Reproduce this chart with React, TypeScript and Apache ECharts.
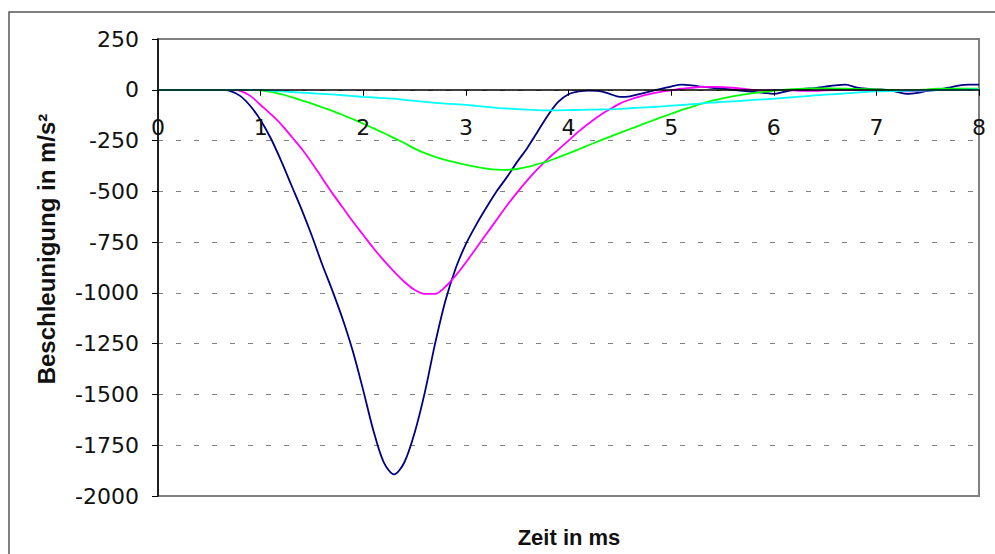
import React, { useEffect, useRef } from "react";
import * as echarts from "echarts";

// time axis sampling (ms)
const STEP = 0.1;
const xTicks = ["0", "1", "2", "3", "4", "5", "6", "7", "8"];
const yTicks = ["250", "0", "-250", "-500", "-750", "-1000", "-1250", "-1500", "-1750", "-2000"];
const Y_MIN = -2000;
const Y_MAX = 250;

// Beschleunigung in m/s², sampled every 0.1 ms from 0 to 8 ms
const navy = [
  0, 0, 0, 0, 0, 0, 0, -5, -30, -80,
  -150, -240, -350, -470, -590, -720, -860, -990, -1130, -1290,
  -1480, -1680, -1835, -1894, -1835, -1690, -1490, -1250, -1040, -880,
  -760, -665, -580, -500, -430, -355, -285, -205, -125, -60,
  -22, -8, -4, -6, -20, -35, -32, -20, -8, 5,
  16, 25, 22, 15, 10, 6, 0, -5, -10, -15,
  -20, -10, 0, 5, 8, 15, 22, 25, 12, 5,
  2, 0, -10, -20, -15, -5, 0, 10, 20, 25,
  25,
];
const magenta = [
  0, 0, 0, 0, 0, 0, 0, 0, -5, -30,
  -75, -120, -170, -230, -290, -360, -435, -510, -580, -650,
  -715, -780, -840, -895, -945, -985, -1005, -1005, -970, -915,
  -850, -780, -710, -640, -570, -505, -445, -390, -340, -295,
  -250, -205, -165, -128, -97, -68, -48, -32, -20, -10,
  -3, 5, 10, 14, 14, 13, 10, 5, 0, -3,
  -2, 0, -3, -5, -5, -3, -2, -2, -2, 0,
  0, -2, -5, -8, -6, -3, 0, 2, 3, 3,
  3,
];
const green = [
  0, 0, 0, 0, 0, 0, 0, 0, 0, 0,
  -3, -10, -22, -36, -52, -68, -86, -104, -124, -145,
  -167, -190, -213, -238, -262, -290, -312, -330, -345, -358,
  -370, -380, -388, -393, -394, -390, -380, -366, -352, -333,
  -313, -293, -272, -252, -232, -212, -193, -174, -155, -136,
  -118, -100, -84, -68, -54, -42, -32, -24, -16, -10,
  -5, 0, 3, 5, 7, 7, 6, 5, 4, 3,
  2, 0, -2, -3, -2, 2, 5, 6, 6, 5,
  5,
];
const cyan = [
  0, 0, 0, 0, 0, 0, 0, 0, 0, 0,
  0, -5, -8, -11, -14, -17, -20, -23, -27, -31,
  -35, -38, -41, -44, -50, -55, -60, -64, -68, -71,
  -74, -79, -84, -89, -92, -95, -98, -100, -101, -101,
  -100, -99, -98, -97, -96, -94, -91, -88, -85, -82,
  -78, -75, -71, -67, -63, -60, -57, -54, -50, -47,
  -44, -40, -36, -32, -28, -24, -21, -18, -14, -10,
  -8, -7, -6, -5, -4, -3, -2, -1, 0, 1,
  2,
];

const toPairs = (vals: number[]) => vals.map((v, i) => [Math.round(i * STEP * 10) / 10, v]);

const TITLE_FONT = "'Liberation Sans', Arial, sans-serif";
const TICK_FONT = "'DejaVu Sans', Verdana, sans-serif";

const W = 995;
const H = 554;
const G_TOP = 39;
const G_BOTTOM = 58;

export default function App() {
  const ref = useRef<HTMLDivElement>(null);
  useEffect(() => {
    if (!ref.current) return;
    const chart = echarts.init(ref.current, null, { renderer: "svg" });
    const plotH = H - G_TOP - G_BOTTOM;
    // distance of the y=0 line above the grid bottom, so the time axis sits on zero
    const zeroOffset = (plotH * (0 - Y_MIN)) / (Y_MAX - Y_MIN);
    const mk = (name: string, vals: number[], color: string, w: number) => ({
      name,
      type: "line",
      data: toPairs(vals),
      showSymbol: false,
      symbol: "none",
      smooth: 0.3,
      lineStyle: { color, width: w },
      itemStyle: { color },
    });
    chart.setOption({
      animation: false,
      backgroundColor: "#ffffff",
      textStyle: { fontFamily: TICK_FONT },
      grid: {
        left: 158,
        top: G_TOP,
        right: 16,
        bottom: G_BOTTOM,
        show: true,
        borderColor: "#808080",
        borderWidth: 2,
        backgroundColor: "transparent",
      },
      xAxis: {
        type: "value",
        position: "bottom",
        offset: -zeroOffset,
        min: 0,
        max: 8,
        interval: 1,
        z: 5,
        axisLine: { show: true, onZero: false, lineStyle: { color: "#000", width: 1.5 } },
        axisTick: { show: true, length: 6, lineStyle: { color: "#000" } },
        axisLabel: {
          margin: 27,
          fontSize: 22,
          color: "#111",
          fontFamily: TICK_FONT,
          formatter: (v: number) => xTicks[Math.round(v)] ?? String(v),
        },
        splitLine: { show: false },
      },
      yAxis: {
        type: "value",
        min: Y_MIN,
        max: Y_MAX,
        interval: 250,
        axisLine: { show: true, onZero: false, lineStyle: { color: "#000", width: 1.5 } },
        axisTick: { show: true, length: 6, lineStyle: { color: "#000" } },
        axisLabel: {
          margin: 19,
          fontSize: 22,
          color: "#111",
          fontFamily: TICK_FONT,
          formatter: (v: number) => (yTicks.includes(String(v)) ? String(v) : ""),
        },
        splitLine: { show: true, lineStyle: { color: "#808080", type: [5, 13], width: 1 } },
      },
      graphic: [
        {
          type: "rect",
          shape: { x: 9, y: 12, width: 1100, height: 700 },
          style: { fill: "none", stroke: "#555", lineWidth: 1.5 },
          silent: true,
          z: -1,
        },
        {
          type: "text",
          x: 569,
          y: 537,
          style: {
            text: "Zeit in ms",
            font: `bold 22px ${TITLE_FONT}`,
            fill: "#111",
            textAlign: "center",
            textVerticalAlign: "middle",
          },
        },
        {
          type: "text",
          x: 46,
          y: 249,
          rotation: Math.PI / 2,
          style: {
            text: "Beschleunigung in m/s²",
            font: `bold 24px ${TITLE_FONT}`,
            fill: "#111",
            textAlign: "center",
            textVerticalAlign: "middle",
          },
        },
      ],
      series: [
        mk("navy", navy, "#000080", 1.8),
        mk("magenta", magenta, "#ff00ff", 1.8),
        mk("green", green, "#00ff00", 1.8),
        mk("cyan", cyan, "#00ffff", 1.8),
      ],
    });
    return () => chart.dispose();
  }, []);
  return (
    <div
      ref={ref}
      style={{ position: "absolute", left: 0, top: 0, width: W, height: H, background: "#fff" }}
    />
  );
}
